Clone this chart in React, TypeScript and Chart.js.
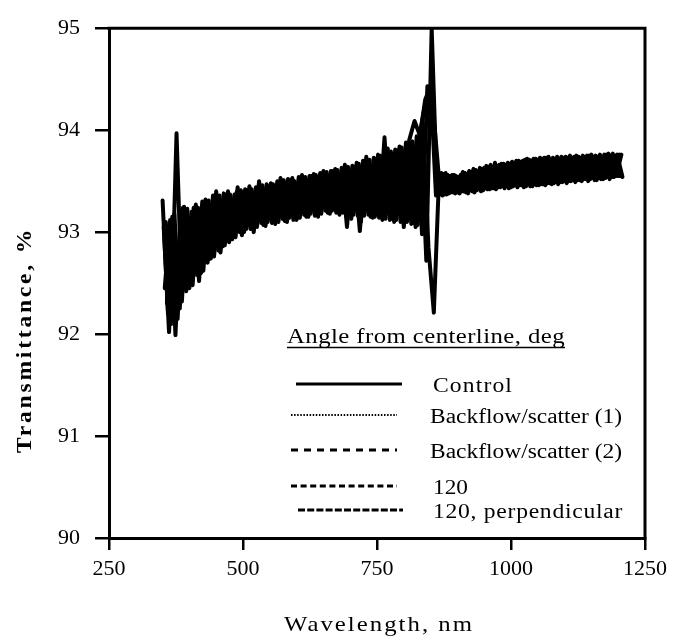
import React, { useEffect, useRef } from 'react';
import { Chart, registerables } from 'chart.js';

Chart.register(...registerables);

// Sample wavelengths (nm) of the spectra, 10 nm grid
const wavelengthsNm = [
  350, 360, 370, 380, 390, 400, 410, 420, 430, 440,
  450, 460, 470, 480, 490, 500, 510, 520, 530, 540,
  550, 560, 570, 580, 590, 600, 610, 620, 630, 640,
  650, 660, 670, 680, 690, 700, 710, 720, 730, 740,
  750, 760, 770, 780, 790, 800, 810, 820, 830, 840,
  850, 860, 870, 880, 890, 900, 910, 920, 930, 940,
  950, 960, 970, 980, 990, 1000, 1010, 1020, 1030, 1040,
  1050, 1060, 1070, 1080, 1090, 1100, 1110, 1120, 1130, 1140,
  1150, 1160, 1170, 1180, 1190, 1200,
];

// each run was sampled slightly shifted in wavelength (nm)
const sampleOffsetNm = [0, 2, 4, 6, 8];

const seriesNames = [
  'Control',
  'Backflow/scatter (1)',
  'Backflow/scatter (2)',
  '120',
  '120, perpendicular',
];

// Transmittance, %
const control = [
  93.31, 92.2, 93.1, 92.35, 93.25, 92.45, 93.22, 92.7, 93.32, 92.74,
  93.4, 92.9, 93.35, 92.93, 93.44, 93.05, 93.4, 93.0, 93.5, 93.1,
  93.44, 93.08, 93.53, 93.15, 93.49, 93.12, 93.56, 93.2, 93.52, 93.15,
  93.6, 93.22, 93.58, 93.17, 93.66, 93.2, 93.63, 93.1, 93.74, 93.18,
  93.72, 93.12, 93.82, 93.14, 93.8, 93.05, 93.9, 94.09, 93.95, 94.3,
  94.43, 93.36, 93.58, 93.37, 93.56, 93.39, 93.59, 93.38, 93.62, 93.42,
  93.63, 93.42, 93.68, 93.44, 93.66, 93.44, 93.7, 93.46, 93.72, 93.45,
  93.71, 93.47, 93.74, 93.48, 93.72, 93.5, 93.75, 93.49, 93.73, 93.52,
  93.76, 93.51, 93.74, 93.54, 93.77, 93.55,
];

const backflow1 = [
  93.05, 92.02, 93.18, 92.25, 93.2, 92.55, 93.27, 92.6, 93.28, 92.8,
  93.34, 92.86, 93.4, 92.98, 93.38, 93.0, 93.45, 93.07, 93.43, 93.06,
  93.48, 93.12, 93.49, 93.1, 93.53, 93.16, 93.52, 93.15, 93.57, 93.2,
  93.56, 93.18, 93.62, 93.22, 93.6, 93.13, 93.68, 93.19, 93.69, 93.14,
  93.76, 93.16, 93.77, 93.1, 93.84, 93.12, 93.86, 93.05, 93.98, 92.72,
  95.0, 93.4, 93.36, 93.56, 93.39, 93.54, 93.4, 93.6, 93.39, 93.63,
  93.43, 93.66, 93.42, 93.67, 93.45, 93.69, 93.44, 93.7, 93.47, 93.72,
  93.46, 93.73, 93.48, 93.72, 93.49, 93.74, 93.5, 93.75, 93.5, 93.75,
  93.53, 93.74, 93.52, 93.77, 93.54, 93.76,
];

const backflow2 = [
  92.45, 93.12, 91.99, 93.22, 92.42, 93.2, 92.58, 93.3, 92.7, 93.36,
  92.82, 93.38, 92.9, 93.37, 93.0, 93.42, 93.03, 93.44, 93.09, 93.47,
  93.09, 93.5, 93.13, 93.52, 93.12, 93.54, 93.17, 93.55, 93.16, 93.58,
  93.21, 93.6, 93.19, 93.63, 93.05, 93.65, 93.16, 93.7, 93.17, 93.73,
  93.14, 93.93, 93.12, 93.81, 93.1, 93.88, 93.08, 93.94, 92.98, 94.43,
  94.3, 93.37, 93.57, 93.38, 93.56, 93.38, 93.58, 93.41, 93.61, 93.4,
  93.65, 93.43, 93.65, 93.45, 93.68, 93.45, 93.7, 93.44, 93.71, 93.47,
  93.73, 93.46, 93.71, 93.49, 93.74, 93.48, 93.73, 93.51, 93.75, 93.5,
  93.74, 93.53, 93.76, 93.52, 93.75, 93.55,
];

const angle120 = [
  93.1, 92.1, 93.97, 92.32, 93.23, 92.48, 93.24, 92.62, 93.31, 92.76,
  93.36, 92.87, 93.37, 92.95, 93.41, 93.03, 93.42, 93.05, 93.46, 93.1,
  93.47, 93.1, 93.51, 93.14, 93.5, 93.14, 93.54, 93.18, 93.56, 93.18,
  93.59, 93.21, 93.61, 93.19, 93.64, 93.17, 93.67, 93.16, 93.71, 93.15,
  93.75, 93.13, 93.79, 93.12, 93.83, 93.1, 93.89, 93.07, 94.05, 92.85,
  92.21, 93.57, 93.37, 93.55, 93.38, 93.56, 93.39, 93.59, 93.41, 93.62,
  93.42, 93.64, 93.44, 93.67, 93.43, 93.68, 93.46, 93.71, 93.45, 93.72,
  93.47, 93.73, 93.47, 93.74, 93.49, 93.73, 93.51, 93.74, 93.52, 93.75,
  93.51, 93.76, 93.53, 93.75, 93.55, 93.76,
];

const angle120Perp = [
  92.3, 93.15, 92.15, 93.24, 92.45, 93.24, 92.52, 93.29, 92.74, 93.34,
  92.8, 93.37, 92.93, 93.39, 92.97, 93.41, 93.05, 93.44, 93.07, 93.45,
  93.11, 93.49, 93.11, 93.51, 93.15, 93.53, 93.15, 93.55, 93.19, 93.56,
  93.19, 93.6, 93.21, 93.62, 93.18, 93.64, 93.01, 93.68, 93.15, 93.72,
  93.16, 93.77, 93.13, 93.8, 93.11, 93.85, 93.09, 93.9, 94.2, 94.43,
  94.0, 93.38, 93.58, 93.39, 93.55, 93.4, 93.57, 93.4, 93.6, 93.41,
  93.64, 93.43, 93.66, 93.43, 93.67, 93.46, 93.69, 93.45, 93.7, 93.46,
  93.72, 93.48, 93.73, 93.47, 93.73, 93.5, 93.74, 93.51, 93.74, 93.52,
  93.75, 93.52, 93.76, 93.54, 93.76, 93.54,
];

const seriesValues = [control, backflow1, backflow2, angle120, angle120Perp];

const xTicks = [250, 500, 750, 1000, 1250];
const yTicks = [90, 91, 92, 93, 94, 95];

const legendTitle = 'Angle from centerline, deg';
const xTitle = 'Wavelength, nm';
const yTitle = 'Transmittance, %';

// legend line styles
const seriesDash: number[][] = [[], [1.5, 1.6], [7, 6], [6, 3.6], [7, 2.2]];
const seriesWidth = [3, 2, 3, 3, 3];

const SERIF = "'Liberation Serif', 'DejaVu Serif', serif";

// draw text starting at x, widened to the target width (mostly by a mild
// horizontal stretch, rest by letter spacing)
function drawFitted(
  ctx: CanvasRenderingContext2D,
  text: string,
  x: number,
  y: number,
  targetWidth: number
) {
  (ctx as any).letterSpacing = '0px';
  const natural = ctx.measureText(text).width;
  const sx = Math.min(1.18, Math.max(0.9, targetWidth / natural));
  const rest = targetWidth / sx - natural;
  const spacing = rest / text.length;
  ctx.save();
  ctx.translate(x, y);
  ctx.scale(sx, 1);
  (ctx as any).letterSpacing = spacing + 'px';
  ctx.textAlign = 'left';
  ctx.fillText(text, 0, 0);
  ctx.restore();
  (ctx as any).letterSpacing = '0px';
}

const decorPlugin = {
  id: 'decor',
  afterDraw(chart: any) {
    const ctx: CanvasRenderingContext2D = chart.ctx;
    const a = chart.chartArea;
    ctx.save();
    // frame top & right
    ctx.strokeStyle = '#000';
    ctx.lineWidth = 3;
    ctx.beginPath();
    ctx.moveTo(a.left - 1.5, a.top);
    ctx.lineTo(a.right, a.top);
    ctx.lineTo(a.right, a.bottom + 1.5);
    ctx.stroke();

    ctx.fillStyle = '#000';
    ctx.textBaseline = 'middle';

    // axis titles
    ctx.font = `21px ${SERIF}`;
    drawFitted(ctx, xTitle, 284, 625, 190);
    ctx.save();
    ctx.translate(26, 340);
    ctx.rotate(-Math.PI / 2);
    ctx.font = `bold 20px ${SERIF}`;
    drawFitted(ctx, yTitle, -113, 0, 226);
    ctx.restore();

    // legend title, underlined
    ctx.font = `21px ${SERIF}`;
    drawFitted(ctx, legendTitle, 287, 337, 278);
    ctx.lineWidth = 1.5;
    ctx.beginPath();
    ctx.moveTo(287, 347.5);
    ctx.lineTo(565, 347.5);
    ctx.stroke();

    // legend entries
    const rowsY = [384, 415, 450, 486, 510];
    const lineX = [
      [296, 402],
      [291, 397],
      [291, 397],
      [291, 397],
      [298, 403],
    ];
    const textX = [433, 430, 430, 433, 433];
    const textW = [80, 192, 192, 35, 190];
    seriesNames.forEach((name, i) => {
      ctx.save();
      ctx.strokeStyle = '#000';
      ctx.lineWidth = seriesWidth[i];
      ctx.setLineDash(seriesDash[i]);
      ctx.beginPath();
      ctx.moveTo(lineX[i][0], rowsY[i]);
      ctx.lineTo(lineX[i][1], rowsY[i]);
      ctx.stroke();
      ctx.restore();
      ctx.font = `20px ${SERIF}`;
      drawFitted(ctx, name, textX[i], rowsY[i] + 3, textW[i]);
    });
    ctx.restore();
  },
};

export default function App() {
  const ref = useRef<HTMLCanvasElement | null>(null);

  useEffect(() => {
    if (!ref.current) return;
    const datasets = seriesNames.map((name, k) => ({
      label: name,
      data: seriesValues[k].map((v, i) => ({ x: wavelengthsNm[i] + sampleOffsetNm[k], y: v })),
      borderColor: '#000',
      borderWidth: 4,
      borderJoinStyle: 'round',
      borderCapStyle: 'round',
      pointRadius: 0,
      tension: 0,
      fill: false,
    }));

    const tickFont = { family: SERIF, size: 22 };

    const chart = new Chart(ref.current, {
      type: 'line',
      data: { datasets },
      options: {
        responsive: false,
        animation: false,
        layout: { padding: { left: 0, top: 15, right: 29, bottom: 0 } },
        plugins: {
          legend: { display: false },
          tooltip: { enabled: false },
          title: { display: false },
        },
        scales: {
          x: {
            type: 'linear',
            min: 250,
            max: 1250,
            afterBuildTicks: (s: any) => {
              s.ticks = xTicks.map((v) => ({ value: v }));
            },
            afterFit: (s: any) => {
              s.height = 106;
            },
            grid: {
              display: true,
              drawOnChartArea: false,
              drawTicks: true,
              tickLength: 12,
              color: '#000',
              lineWidth: 2.5,
            },
            border: { display: true, color: '#000', width: 3 },
            ticks: {
              color: '#000',
              font: tickFont,
              padding: 6,
              maxRotation: 0,
              autoSkip: false,
              callback: (v: any) => String(v),
            },
          },
          y: {
            type: 'linear',
            min: 90,
            max: 95,
            afterBuildTicks: (s: any) => {
              s.ticks = yTicks.map((v) => ({ value: v }));
            },
            afterFit: (s: any) => {
              s.width = 109;
            },
            grid: {
              display: true,
              drawOnChartArea: false,
              drawTicks: true,
              tickLength: 14,
              color: '#000',
              lineWidth: 2.5,
            },
            border: { display: true, color: '#000', width: 3 },
            ticks: {
              color: '#000',
              font: tickFont,
              padding: 15,
              autoSkip: false,
              callback: (v: any) => String(v),
            },
          },
        },
      },
      plugins: [decorPlugin],
    } as any);

    return () => chart.destroy();
  }, []);

  return (
    <div style={{ position: 'fixed', left: 0, top: 0, width: 674, height: 644, background: '#fff' }}>
      <canvas ref={ref} width={674} height={644} style={{ width: 674, height: 644 }} />
    </div>
  );
}
